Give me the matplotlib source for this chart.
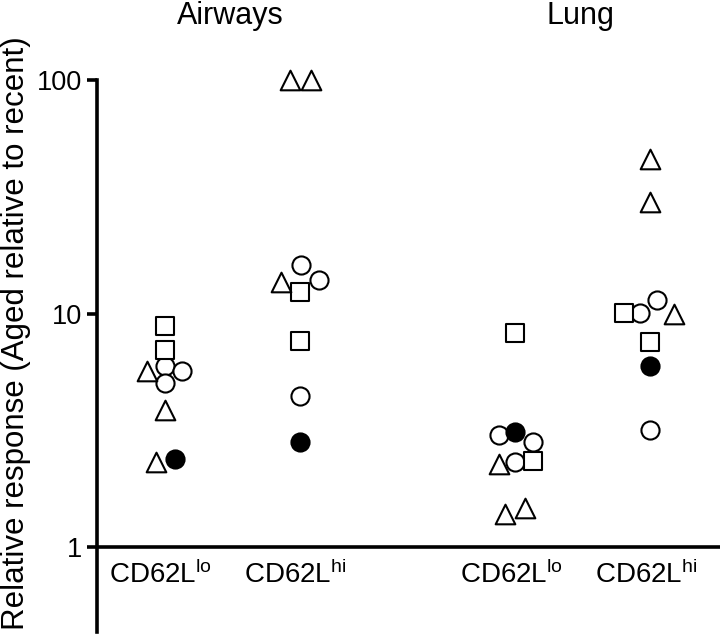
import matplotlib.pyplot as plt
import matplotlib.transforms as mtransforms
import numpy as np

plt.rcParams['font.family'] = ['Liberation Sans', 'DejaVu Sans']
plt.rcParams['mathtext.fontset'] = 'custom'
plt.rcParams['mathtext.rm'] = 'Liberation Sans'
plt.rcParams['mathtext.it'] = 'Liberation Sans'

# group positions on the x axis (Airways lo, Airways hi, Lung lo, Lung hi)
groups = [1.0, 2.0, 3.6, 4.6]
group_labels = [r'CD62L$^{\mathrm{lo}}$', r'CD62L$^{\mathrm{hi}}$',
                r'CD62L$^{\mathrm{lo}}$', r'CD62L$^{\mathrm{hi}}$']
tissues = ['Airways', 'Lung']

# values, one list per marker type and group
circle_vals = [[6.0, 5.7, 5.05], [16.1, 13.9, 4.45], [3.02, 2.82, 2.32], [11.4, 10.1, 3.18]]
circle_dx = [[0, 17, 0], [1, 19, 0], [-16, 18, 0], [7, -10, 0]]
square_vals = [[8.9, 7.0], [12.4, 7.65], [8.3, 2.34], [10.1, 7.58]]
square_dx = [[0, 0], [0, 0], [0, 18], [-26, 0]]
triangle_vals = [[5.7, 3.87, 2.32], [100, 100, 13.7], [2.27, 1.39, 1.48], [46, 30, 10.0]]
triangle_dx = [[-18, 0, -9], [-10, 11, -19], [-16, -10, 10], [0, 0, 24]]
filled_vals = [[2.39], [2.82], [3.11], [5.95]]
filled_dx = [[10], [0], [0], [0]]

px = 135.0  # pixels per x unit

fig = plt.figure(figsize=(7.2, 6.36), dpi=100)
ax = fig.add_axes([97 / 720, 1 - 632 / 636, 1 - 97 / 720, 552 / 636])
ax.set_yscale('log')
ax.set_ylim(0.435, 100)
ax.set_xlim(1 - 68 / px, 4.6 + 70 / px)

styles = [
    (circle_vals, circle_dx, dict(marker='o', s=170, facecolors='white', edgecolors='black')),
    (square_vals, square_dx, dict(marker='s', s=150, facecolors='white', edgecolors='black')),
    (triangle_vals, triangle_dx, dict(marker='^', s=200, facecolors='white', edgecolors='black')),
    (filled_vals, filled_dx, dict(marker='o', s=170, facecolors='black', edgecolors='black')),
]
for vals, dxs, kw in styles:
    for g, v, d in zip(groups, vals, dxs):
        x = g + np.array(d) / px
        ax.scatter(x, v, linewidths=1.5, zorder=3, clip_on=False, **kw)

ax.axhline(1, color='black', lw=2.6, zorder=2)
for side in ['top', 'right', 'bottom']:
    ax.spines[side].set_visible(False)
ax.spines['left'].set_linewidth(2.6)
ax.set_yticks([1, 10, 100])
ax.set_yticklabels(['1', '10', '100'])
ax.yaxis.set_minor_locator(plt.NullLocator())
ax.tick_params(axis='y', length=7, width=2.6, labelsize=19.5, pad=4)
ax.set_xticks([])
ax.set_ylabel('Relative response (Aged relative to recent)', fontsize=22.5)
ax.yaxis.set_label_coords((31 - 97) / 623, (632 - 333) / 552)

for g, lab in zip(groups, group_labels):
    ax.text(g - 0.03, 0.88, lab, ha='center', va='top', fontsize=20)

top = mtransforms.blended_transform_factory(ax.transData, fig.transFigure)
ax.text((groups[0] + groups[1]) / 2 - 0.015, 1 - 1 / 636, tissues[0], transform=top,
        ha='center', va='top', fontsize=22)
ax.text((groups[2] + groups[3]) / 2 - 0.015, 1 - 1 / 636, tissues[1], transform=top,
        ha='center', va='top', fontsize=22)

fig.savefig('out.png', dpi=100)
